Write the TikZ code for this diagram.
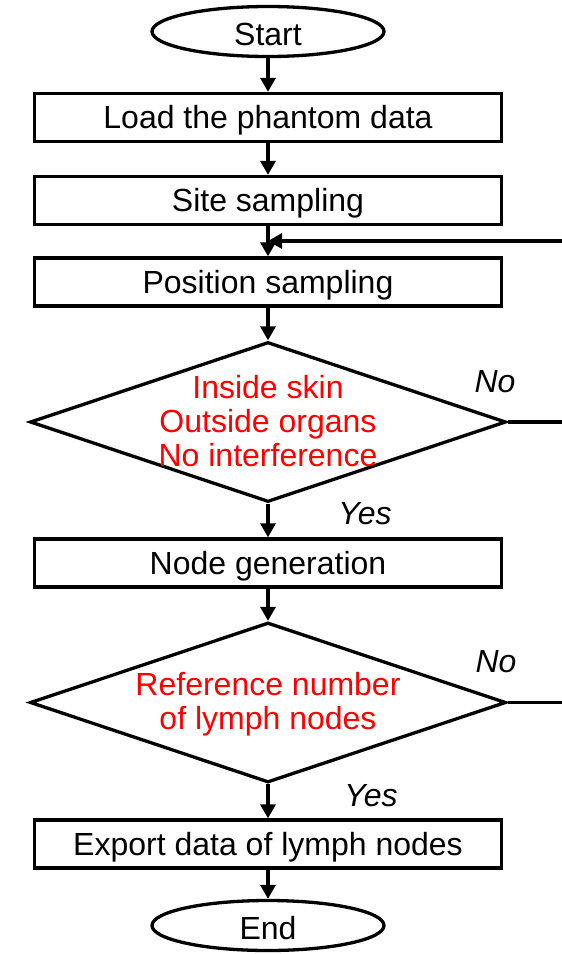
\documentclass[tikz,border=0pt]{standalone}
\usepackage{fontspec}
\setmainfont{Liberation Sans}
\usetikzlibrary{shapes.geometric,arrows.meta}
\newcommand\lnstrut{\rule[-7pt]{0pt}{34pt}}
\begin{document}
\begin{tikzpicture}[x=1pt,y=-1pt,
  every node/.style={font=\fontsize{32}{34}\selectfont},
  basebox/.style={draw, line width=3.3pt, inner sep=0pt},
  proc/.style={basebox, rectangle, minimum width=467pt, minimum height=48pt, text height=28pt, text depth=6pt},
  term/.style={basebox, ellipse, minimum width=232pt, minimum height=50pt, text height=31pt, text depth=3pt},
  dec/.style={basebox, diamond, minimum width=476pt, minimum height=160pt},
  cond/.style={text=red, align=center, inner sep=0pt},
  lab/.style={font=\fontsize{32}{34}\selectfont\itshape, inner sep=0pt, anchor=base},
  arr/.style={line width=3.3pt, -{Triangle[width=15pt,length=14pt]}},
  ln/.style={line width=3.3pt}
]
\useasboundingbox (0,0) rectangle (562,954);

\node[term] (start) at (268,31.5) {Start};
\node[proc] (load) at (268,117.5) {Load the phantom data};
\node[proc] (site) at (268,200.5) {Site sampling};
\node[proc] (pos) at (268,282) {Position sampling};
\node[dec] (d1) at (268,422) {};
\node[cond] (d1t) at (d1.center) {\lnstrut Inside skin\\\lnstrut Outside organs\\\lnstrut No interference};
\node[proc] (gen) at (268,563) {Node generation};
\node[dec] (d2) at (268,702.5) {};
\node[cond] (d2t) at (d2.center) {\lnstrut Reference number\\\lnstrut of lymph nodes};
\node[proc] (exp) at (268,844) {Export data of lymph nodes};
\node[term] (end) at (268,925.5) {End};

\node[lab] (no1) at (495,392) {No};
\node[lab] (yes1) at (365,524) {Yes};
\node[lab] (no2) at (496,672) {No};
\node[lab] (yes2) at (371,806) {Yes};

\coordinate (fb) at (566,241);
\coordinate (out1) at (566,422);
\coordinate (out2) at (566,702.5);

\draw[arr] (start) -- (load);
\draw[arr] (load) -- (site);
\draw[arr] (site) -- (pos);
\draw[arr] (fb) -- (fb -| site.south);
\draw[arr] (pos) -- (d1);
\draw[arr] (d1) -- (gen);
\draw[arr] (gen) -- (d2);
\draw[arr] (d2) -- (exp);
\draw[arr] (exp) -- (end);
\draw[ln] (d1.east) -- (out1);
\draw[ln] (d2.east) -- (out2);
\end{tikzpicture}
\end{document}
